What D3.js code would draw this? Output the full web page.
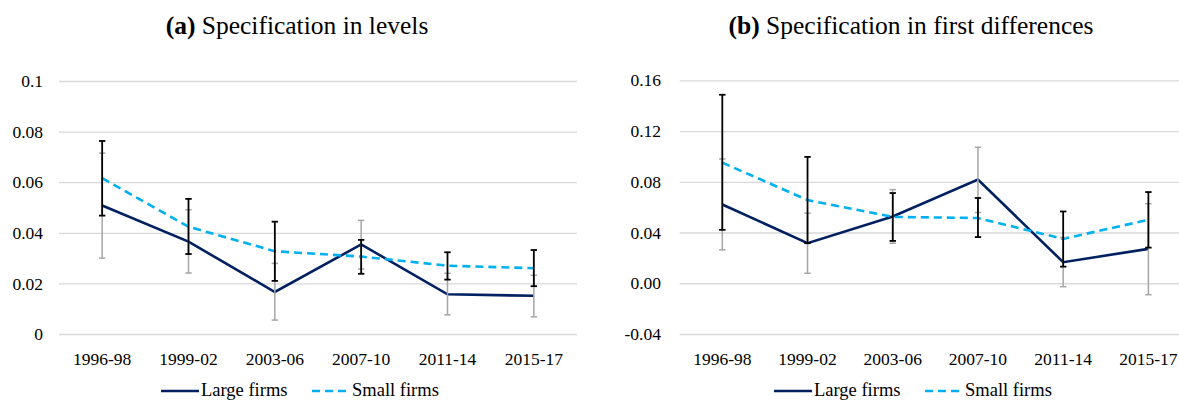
<!DOCTYPE html>
<html>
<head>
<meta charset="utf-8">
<script src="https://cdn.jsdelivr.net/npm/d3@7"></script>
<style>
  body { margin: 0; background: #fff; }
  svg { display: block; font-family: "Liberation Serif", "Times New Roman", serif; }
</style>
</head>
<body>
<svg id="chart" width="1179" height="401"></svg>
<script>
let svg = d3.select("#chart");

//! DATA
let periods = ["1996-98", "1999-02", "2003-06", "2007-10", "2011-14", "2015-17"];

// (a) levels
let levelsLarge   = [0.0508, 0.0365, 0.0166, 0.0354, 0.0157, 0.0151];
let levelsLargeLo = [0.0300, 0.0241, 0.0055, 0.0257, 0.0076, 0.0068];
let levelsLargeHi = [0.0715, 0.0491, 0.0279, 0.0449, 0.0240, 0.0232];
let levelsSmall   = [0.0616, 0.0424, 0.0327, 0.0306, 0.0270, 0.0260];
let levelsSmallLo = [0.0468, 0.0316, 0.0210, 0.0238, 0.0215, 0.0189];
let levelsSmallHi = [0.0763, 0.0534, 0.0444, 0.0372, 0.0323, 0.0332];
let levelsTicks = [0, 0.02, 0.04, 0.06, 0.08, 0.1];

// (b) first differences
let diffLarge   = [0.0621, 0.0316, 0.0527, 0.0817, 0.0166, 0.0271];
let diffLargeLo = [0.0263, 0.0079, 0.0316, 0.0558, -0.0027, -0.0090];
let diffLargeHi = [0.0980, 0.0553, 0.0738, 0.1072, 0.0360, 0.0627];
let diffSmall   = [0.0951, 0.0656, 0.0523, 0.0514, 0.0350, 0.0500];
let diffSmallLo = [0.0421, 0.0316, 0.0334, 0.0364, 0.0131, 0.0281];
let diffSmallHi = [0.1486, 0.0996, 0.0711, 0.0672, 0.0566, 0.0719];
let diffTicks = [-0.04, 0, 0.04, 0.08, 0.12, 0.16];

let seriesNames = ["Large firms", "Small firms"];

//? colours
let navy = "#002060";
let blue = "#00B0F0";
let grid = "#d9d9d9";

function panel(opt) {
    let x = d3.scaleBand().domain(periods).range(opt.xRange).padding(0);
    let y = d3.scaleLinear().domain(opt.yDomain).range([334, opt.yTop]);
    let cx = d => x(d) + x.bandwidth() / 2;

    let g = svg.append("g");

    // title
    let title = g.append("text")
        .attr("x", opt.titleX)
        .attr("y", 34)
        .attr("text-anchor", "middle")
        .attr("font-size", 25.5)
        .attr("fill", "#000");
    title.append("tspan").attr("font-weight", "bold").text(opt.tag);
    title.append("tspan").text(" " + opt.title);

    // gridlines
    g.append("g")
        .attr("transform", `translate(${opt.xRange[0]},0)`)
        .call(d3.axisLeft(y).tickValues(opt.ticks).tickSize(-(opt.xRange[1] - opt.xRange[0])).tickFormat(""))
        .call(s => s.select(".domain").remove())
        .call(s => s.selectAll("line").attr("stroke", grid).attr("stroke-width", 1.3));

    // y labels
    g.append("g")
        .selectAll("text")
        .data(opt.ticks)
        .enter()
        .append("text")
        .attr("x", opt.labelX)
        .attr("y", d => y(d))
        .attr("dy", "0.35em")
        .attr("text-anchor", "end")
        .attr("font-size", 17.5)
        .text(opt.fmt);

    // x labels
    g.append("g")
        .selectAll("text")
        .data(periods)
        .enter()
        .append("text")
        .attr("x", d => cx(d))
        .attr("y", 365)
        .attr("text-anchor", "middle")
        .attr("font-size", 17.5)
        .text(d => d);

    // lines
    let line = vals => d3.line().x((d, i) => cx(periods[i])).y(d => y(d))(vals);
    g.append("path")
        .attr("d", line(opt.large))
        .attr("fill", "none")
        .attr("stroke", navy)
        .attr("stroke-width", 2.6);
    g.append("path")
        .attr("d", line(opt.small))
        .attr("fill", "none")
        .attr("stroke", blue)
        .attr("stroke-width", 2.6)
        .attr("stroke-dasharray", "8,5");

    // error bars: large firms grey, small firms black
    function errorBars(lo, hi, colour, w) {
        let eb = g.append("g").attr("stroke", colour).attr("stroke-width", w);
        periods.forEach((p, i) => {
            let xx = cx(p);
            eb.append("line").attr("x1", xx).attr("x2", xx).attr("y1", y(lo[i])).attr("y2", y(hi[i]));
            [lo[i], hi[i]].forEach(v => {
                eb.append("line").attr("x1", xx - 3.2).attr("x2", xx + 3.2).attr("y1", y(v)).attr("y2", y(v));
            });
        });
    }
    errorBars(opt.largeLo, opt.largeHi, "#a6a6a6", 1.5);
    errorBars(opt.smallLo, opt.smallHi, "#000", 1.8);

    // legend
    let lg = g.append("g");
    lg.append("line")
        .attr("x1", opt.legendX).attr("x2", opt.legendX + 38)
        .attr("y1", 391).attr("y2", 391)
        .attr("stroke", navy).attr("stroke-width", 2.6);
    lg.append("text")
        .attr("x", opt.legendX + 40).attr("y", 396)
        .attr("font-size", 18.5)
        .text(seriesNames[0]);
    lg.append("line")
        .attr("x1", opt.legendX + 151).attr("x2", opt.legendX + 189)
        .attr("y1", 391).attr("y2", 391)
        .attr("stroke", blue).attr("stroke-width", 2.6)
        .attr("stroke-dasharray", "8,5");
    lg.append("text")
        .attr("x", opt.legendX + 191).attr("y", 396)
        .attr("font-size", 18.5)
        .text(seriesNames[1]);
}

panel({
    tag: "(a)", title: "Specification in levels", titleX: 297,
    xRange: [59, 577], yDomain: [0, 0.1], yTop: 81,
    ticks: levelsTicks, fmt: d => d === 0 ? "0" : String(+d.toFixed(2)), labelX: 43,
    large: levelsLarge, largeLo: levelsLargeLo, largeHi: levelsLargeHi,
    small: levelsSmall, smallLo: levelsSmallLo, smallHi: levelsSmallHi,
    legendX: 161
});

panel({
    tag: "(b)", title: "Specification in first differences", titleX: 911,
    xRange: [679.7, 1191], yDomain: [-0.04, 0.16], yTop: 80.3,
    ticks: diffTicks, fmt: d => d.toFixed(2), labelX: 661,
    large: diffLarge, largeLo: diffLargeLo, largeHi: diffLargeHi,
    small: diffSmall, smallLo: diffSmallLo, smallHi: diffSmallHi,
    legendX: 774
});
</script>
</body>
</html>
